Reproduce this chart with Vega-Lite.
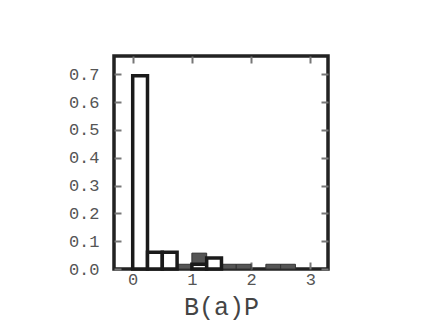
{
  "$schema": "https://vega.github.io/schema/vega-lite/v6.json",
  "autosize": {"type": "none"},
  "width": 214,
  "height": 213,
  "padding": {"left": 114, "top": 56, "right": 94, "bottom": 55},
  "background": "white",
  "config": {
    "view": {"stroke": "#222222", "strokeWidth": 3.5},
    "axis": {
      "domain": false,
      "grid": false,
      "tickColor": "#777777",
      "tickSize": -7,
      "tickWidth": 2,
      "labelFont": "Liberation Mono",
      "labelFontSize": 17,
      "labelColor": "#555555",
      "titleFont": "Liberation Mono",
      "titleFontSize": 25,
      "titleFontWeight": "normal",
      "titleColor": "#444444"
    }
  },
  "data": {
    "values": [
      {"series": "B", "x0": 0.75, "x1": 1.0, "p": 0.017},
      {"series": "B", "x0": 1.0, "x1": 1.25, "p": 0.057},
      {"series": "B", "x0": 1.5, "x1": 1.75, "p": 0.017},
      {"series": "B", "x0": 1.75, "x1": 2.0, "p": 0.017},
      {"series": "B", "x0": 2.25, "x1": 2.5, "p": 0.017},
      {"series": "B", "x0": 2.5, "x1": 2.75, "p": 0.017},
      {"series": "A", "x0": 0.0, "x1": 0.25, "p": 0.695},
      {"series": "A", "x0": 0.25, "x1": 0.5, "p": 0.06},
      {"series": "A", "x0": 0.5, "x1": 0.75, "p": 0.06},
      {"series": "A", "x0": 1.0, "x1": 1.25, "p": 0.017},
      {"series": "A", "x0": 1.25, "x1": 1.5, "p": 0.04}
    ]
  },
  "layer": [
    {
      "transform": [{"filter": "datum.series === 'B'"}],
      "mark": {"type": "bar", "fill": "#555555", "stroke": "#333333", "strokeWidth": 1},
      "encoding": {
        "x": {"field": "x0", "type": "quantitative", "scale": {"domain": [-0.316, 3.3], "nice": false, "zero": false},
          "axis": {"orient": "bottom", "values": [0, 1, 2, 3], "title": "B(a)P", "labelPadding": 9, "titlePadding": 7}},
        "x2": {"field": "x1"},
        "y": {"field": "p", "type": "quantitative", "scale": {"domain": [0, 0.766], "nice": false},
          "axis": {"orient": "left", "values": [0, 0.1, 0.2, 0.3, 0.4, 0.5, 0.6, 0.7], "format": ".1f", "title": null, "labelPadding": 22}},
        "y2": {"datum": 0}
      }
    },
    {
      "transform": [{"filter": "datum.series === 'A'"}],
      "mark": {"type": "bar", "fill": "white", "stroke": "#1a1a1a", "strokeWidth": 3.5},
      "encoding": {
        "x": {"field": "x0", "type": "quantitative", "axis": null},
        "x2": {"field": "x1"},
        "y": {"field": "p", "type": "quantitative", "axis": null},
        "y2": {"datum": 0}
      }
    },
    {
      "mark": {"type": "point", "opacity": 0},
      "encoding": {
        "x": {"field": "x0", "type": "quantitative",
          "axis": {"orient": "top", "values": [0, 1, 2, 3], "labels": false, "title": null}},
        "y": {"field": "p", "type": "quantitative",
          "axis": {"orient": "right", "values": [0, 0.1, 0.2, 0.3, 0.4, 0.5, 0.6, 0.7], "labels": false, "title": null}}
      }
    }
  ],
  "resolve": {"axis": {"x": "independent", "y": "independent"}}
}
